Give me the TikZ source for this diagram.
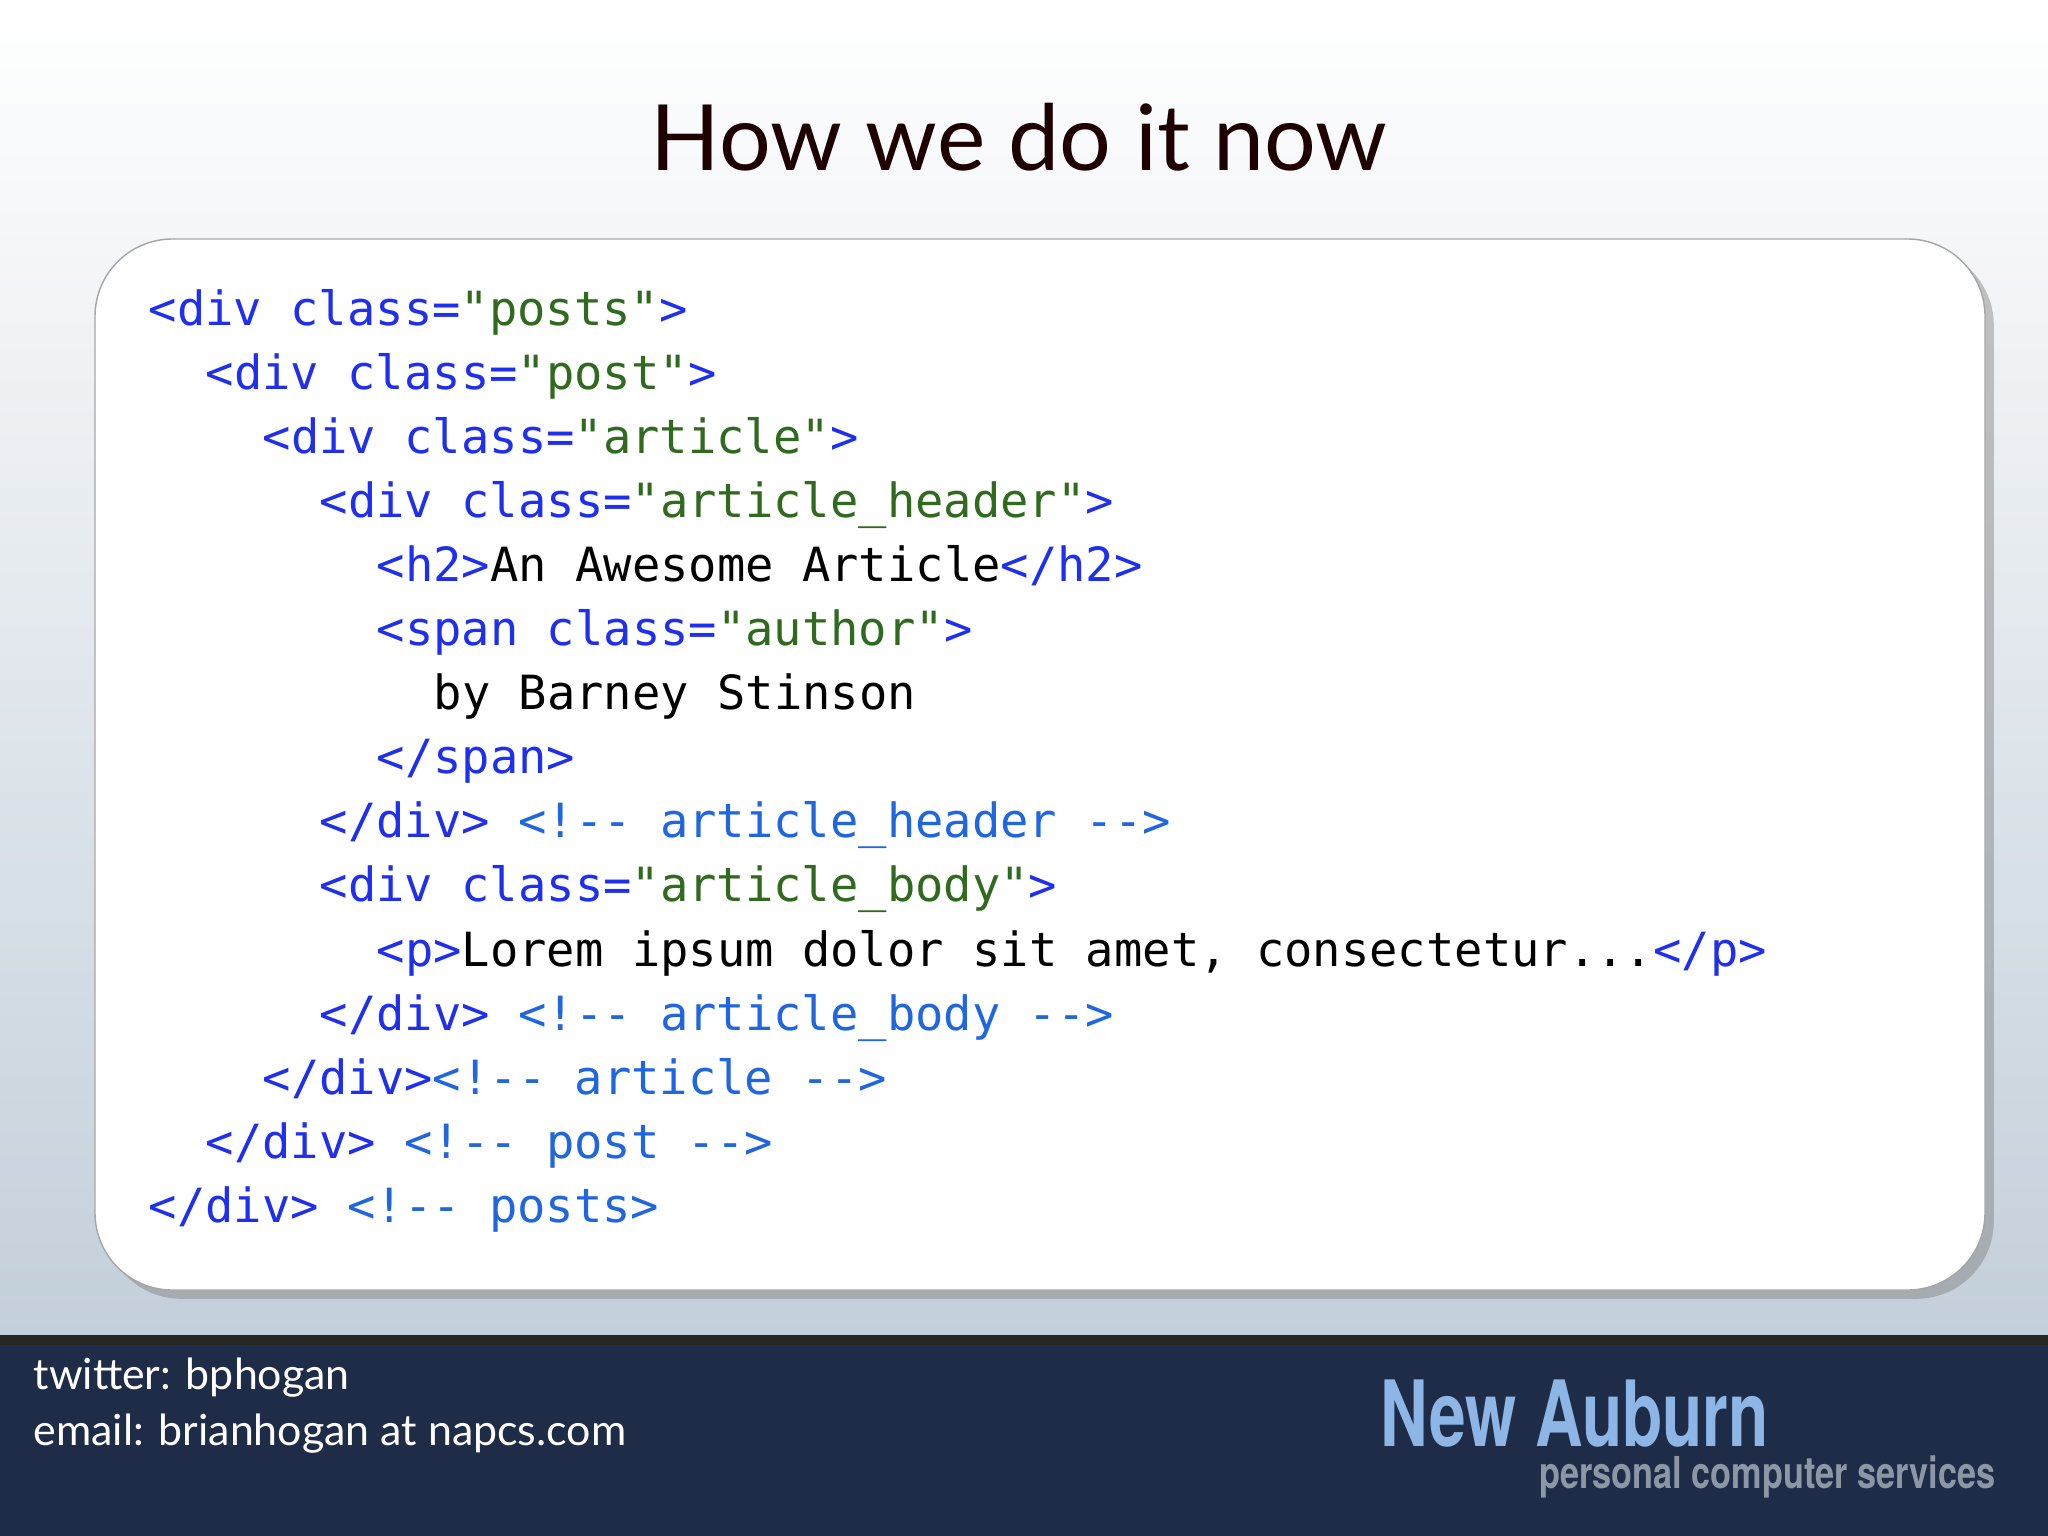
\documentclass[tikz,border=0pt]{standalone}
\usepackage{fontspec}
\setmainfont{Lato}
\newfontfamily\code{DejaVu Sans Mono}
\newfontfamily\logofont{TeX Gyre Heros}
\usetikzlibrary{shadows}
\definecolor{tagb}{HTML}{1F2FF0}
\definecolor{strg}{HTML}{2F6A1E}
\definecolor{cmtb}{HTML}{1F66E0}
\definecolor{navy}{HTML}{1E2C47}
\definecolor{bgbot}{HTML}{C3CFDA}
\definecolor{logob}{HTML}{8DB6E6}
\definecolor{subg}{HTML}{8C97A6}
\newcommand{\Tg}[1]{\textcolor{tagb}{#1}}
\newcommand{\Sg}[1]{\textcolor{strg}{#1}}
\newcommand{\Cm}[1]{\textcolor{cmtb}{#1}}
\tikzset{codeline/.style={anchor=base west,inner sep=0pt,font=\code\fontsize{13.4}{16}\selectfont},
 foot/.style={anchor=base west,inner sep=0pt,text=white,font=\fontsize{12.2}{15}\selectfont}}
\begin{document}
\begin{tikzpicture}[x=0.01cm,y=-0.01cm]
\shade[top color=white,bottom color=bgbot] (0,0) rectangle (2048,1339);
\useasboundingbox (0,0) rectangle (2048,1536);
\node[font=\fontsize{26}{32}\selectfont,text=black!80!red!60!black,anchor=base] (title) at (1019,170) {How we do it now};
\draw[fill=white,draw=gray!70,rounded corners=22,drop shadow={shadow xshift=2.5pt,shadow yshift=-2.5pt,opacity=0.45}] (95,239) rectangle (1985,1290);
\foreach \i/\ind/\txt in {
0/0/{\Tg{<div class=}\Sg{"posts"}\Tg{>}},
1/1/{\Tg{<div class=}\Sg{"post"}\Tg{>}},
2/2/{\Tg{<div class=}\Sg{"article"}\Tg{>}},
3/3/{\Tg{<div class=}\Sg{"article\_header"}\Tg{>}},
4/4/{\Tg{<h2>}An Awesome Article\Tg{</h2>}},
5/4/{\Tg{<span class=}\Sg{"author"}\Tg{>}},
6/5/{by Barney Stinson},
7/4/{\Tg{</span>}},
8/3/{\Tg{</div>} \Cm{<!-- article\_header -->}},
9/3/{\Tg{<div class=}\Sg{"article\_body"}\Tg{>}},
10/4/{\Tg{<p>}Lorem ipsum dolor sit amet, consectetur...\Tg{</p>}},
11/3/{\Tg{</div>} \Cm{<!-- article\_body -->}},
12/2/{\Tg{</div>}\Cm{<!-- article -->}},
13/1/{\Tg{</div>} \Cm{<!-- post -->}},
14/0/{\Tg{</div>} \Cm{<!-- posts>}}}
  \node[codeline] (l\i) at ({148+57*\ind},{325+64.1*\i}) {\txt};
\fill[navy] (0,1339) rectangle (2048,1536);
\draw[black!85,line width=3] (0,1340) -- (2048,1340);
\node[foot] (tw) at (33,1389) {twitter: bphogan};
\node[foot] (em) at (33,1445) {email: brianhogan at napcs.com};
\node[anchor=base west,inner sep=0pt,text=logob,font=\logofont\bfseries\fontsize{26}{32}\selectfont,xscale=0.72] (logo) at (1380,1446) {New Auburn};
\node[anchor=base east,inner sep=0pt,text=subg,font=\logofont\bfseries\fontsize{12.5}{15}\selectfont,xscale=0.78] (sub) at (1996,1488) {personal computer services};
\end{tikzpicture}
\end{document}
